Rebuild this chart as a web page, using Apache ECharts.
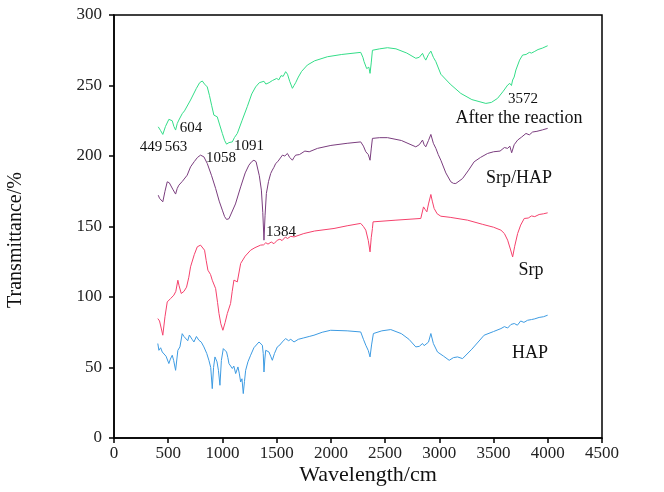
<!DOCTYPE html>
<html>
<head>
<meta charset="utf-8">
<script src="https://cdn.jsdelivr.net/npm/echarts@6/dist/echarts.min.js"></script>
<style>
  html, body { margin: 0; padding: 0; background: #fff; }
  #chart { width: 664px; height: 492px; }
</style>
</head>
<body>
<div id="chart"></div>
<script>
// x ticks and y ticks
const xTicks = [0, 500, 1000, 1500, 2000, 2500, 3000, 3500, 4000, 4500]
const yTicks = [0, 50, 100, 150, 200, 250, 300]

// [wavenumber, transmittance]
const afterReaction = [
  [408,220.7],[430,218],[450,215.3],[475,221],[506,226],[537,225],[552,221],[568,218.4],[583,223],[598,225.5],
  [629,230],[650,232],[706,239.7],[760,248],[790,252],[814,253.2],[835,251],[860,249],[880,243],[900,236],
  [921,229],[936,229.5],[952,227.8],[975,222],[999,216],[1020,211],[1038,208.4],[1060,209.5],[1091,210],[1110,213],
  [1137,216],[1180,225],[1229,235],[1270,244],[1306,249],[1340,252],[1383,253],[1400,251],[1414,250],[1430,252],
  [1445,251],[1460,253.5],[1475,252.7],[1500,255],[1520,254],[1540,257],[1560,256.5],[1583,259.8],[1600,258],[1620,253],
  [1645,248],[1660,250],[1675,252],[1700,256],[1730,260],[1783,264.5],[1850,267.5],[1968,270.4],[2100,272],[2275,273.5],
  [2295,270],[2306,266.9],[2330,262],[2350,263],[2361,258.6],[2372,266],[2383,275],[2450,276],[2522,276.8],[2600,276],
  [2700,273],[2783,269.3],[2815,270],[2845,272.8],[2860,270],[2875,268],[2900,272],[2922,274.4],[2945,270],[2968,266.9],
  [3014,258],[3100,251],[3198,244.4],[3300,240],[3429,237.3],[3480,238],[3537,240.9],[3590,246],[3630,250.3],[3650,251.5],
  [3665,250],[3676,253.9],[3690,256],[3706,261],[3740,268],[3768,271.6],[3800,272],[3830,273.5],[3850,273],[3875,274],
  [3910,275.5],[3950,276.5],[3999,278.2]
]
const srpHap = [
  [408,172.2],[420,170],[450,167.5],[470,175],[491,181.7],[510,181],[522,180.5],[545,176],[568,173],[583,177],
  [598,179.3],[630,182],[675,186.4],[706,192.3],[740,196],[770,199],[798,200.6],[829,199.4],[860,194.7],[900,186],
  [937,177],[970,168],[999,161.6],[1020,157],[1038,155],[1060,155.5],[1075,155.7],[1120,166],[1168,178.1],[1210,188],
  [1244,193.5],[1270,196],[1290,197],[1310,196],[1322,194.7],[1340,186],[1359,175.8],[1372,160],[1383,140.3],[1393,158],
  [1405,173.4],[1425,182],[1445,187.6],[1460,190],[1475,192],[1491,194.7],[1510,196],[1525,195],[1553,200.6],[1575,200],
  [1599,201.8],[1620,199],[1645,197],[1660,199],[1675,200.6],[1710,201],[1760,203.5],[1800,203],[1876,205.4],[2000,207.5],
  [2150,209],[2275,210],[2300,207],[2322,203],[2345,201],[2361,197],[2372,205],[2383,212.5],[2450,213],[2522,213],
  [2650,211],[2783,206.5],[2815,208],[2845,211.3],[2860,208],[2875,206.5],[2900,211],[2922,215.3],[2945,209],[2968,205.4],
  [2990,201],[3014,197],[3060,188],[3106,181.7],[3130,180.6],[3152,180.5],[3214,184],[3270,190],[3321,195.9],[3380,199],
  [3445,201.8],[3500,203],[3560,203.5],[3600,206],[3630,205.4],[3650,207],[3667,202.3],[3690,208],[3722,211.3],[3760,213.5],
  [3799,216],[3830,215],[3860,217],[3900,217.5],[3950,218.5],[3999,219.6]
]
const srp = [
  [404,84.7],[420,83],[435,78],[450,72.9],[470,86],[491,96.5],[522,98.9],[552,101.3],[570,104],[589,111.9],
  [600,108],[620,102.5],[645,104],[669,107],[690,114],[706,121.4],[740,130],[768,135.6],[798,136.8],[835,133.2],
  [850,126],[866,119],[890,116],[906,111.9],[937,106],[955,96],[968,88.3],[985,81],[1004,76.4],[1025,82],
  [1045,88.3],[1075,95.4],[1090,104],[1106,112],[1137,110.7],[1168,123.8],[1210,129],[1260,133.2],[1300,135],[1352,136.8],
  [1380,137],[1400,138.5],[1420,137.5],[1450,139],[1475,137.8],[1506,140.3],[1530,141],[1550,140],[1580,142.5],[1600,141.5],
  [1630,143],[1660,142.6],[1750,145],[1850,146.8],[2029,148.6],[2150,150.5],[2275,152.2],[2300,150],[2322,147.4],[2345,140],
  [2361,132],[2372,142],[2383,148.6],[2389,153.3],[2600,154.5],[2829,155.7],[2854,163.9],[2870,162],[2885,160.4],[2900,166],
  [2922,172.7],[2935,168],[2952,162.8],[2980,159],[3014,157.3],[3100,156.5],[3260,154.5],[3400,151.5],[3500,149.5],[3568,147.4],
  [3600,145],[3630,140.3],[3655,134],[3676,128.4],[3695,136],[3722,145],[3750,151],[3783,155.7],[3820,156],[3850,157.5],
  [3880,157],[3920,158.5],[3960,159],[3999,159.7]
]
const hap = [
  [404,67],[414,62.2],[430,64],[445,61],[460,62.2],[480,58],[506,52.8],[520,56],[537,58.7],[550,55],
  [568,48],[589,62.2],[608,64.6],[629,74],[645,72],[660,72.9],[680,69],[695,73],[706,72.9],[720,70],
  [737,68.1],[760,72],[783,69.3],[805,68],[829,64.6],[855,60],[875,55.1],[892,50],[906,35],[918,50],
  [931,57.5],[950,54],[963,48],[977,37.4],[990,55],[1008,63.4],[1022,62],[1038,61],[1050,57],[1060,52.8],
  [1075,54],[1091,49.3],[1105,51],[1122,45.7],[1143,50.4],[1155,46],[1168,39.7],[1180,42],[1192,31.5],[1203,40],
  [1214,48],[1235,54],[1260,58.7],[1290,64],[1337,68.1],[1355,67],[1368,65.8],[1376,60],[1383,46.8],[1391,56],
  [1399,62.2],[1415,63],[1429,61],[1445,58],[1460,55.1],[1480,60],[1506,64.6],[1530,66],[1550,68],[1583,70.5],
  [1610,69],[1630,70],[1660,68.1],[1700,70],[1750,71],[1800,72],[1844,72.9],[1920,75],[1998,76.4],[2150,76],
  [2275,75.2],[2300,70],[2322,65.8],[2345,62],[2361,57.5],[2375,66],[2392,74.1],[2470,76],[2552,76.9],[2650,74],
  [2720,70],[2783,64.6],[2815,65],[2845,67],[2860,65.5],[2875,64.6],[2900,68],[2922,74.1],[2945,67],[2983,61],
  [3040,58],[3091,55.1],[3130,57],[3168,57.5],[3214,56.3],[3300,63],[3413,72.9],[3500,75.5],[3568,77.6],[3600,79],
  [3630,78],[3660,80.5],[3691,81.2],[3720,80],[3750,83],[3780,82],[3814,83.5],[3850,84],[3880,84.5],[3920,85.5],
  [3960,86],[3999,87.1]
]

// peak annotations and curve names: [text, centre x px, centre y px, size]
const notes = [
  ['3572', 523, 99, 15], ['After the reaction', 519, 118, 18],
  ['449', 151, 147, 15], ['563', 176, 147, 15], ['604', 191, 128, 15],
  ['1091', 249, 146, 15], ['1058', 221, 158, 15], ['1384', 281, 232, 15],
  ['Srp/HAP', 519, 178, 18], ['Srp', 531, 270, 18], ['HAP', 530, 353, 18]
]

const font = 'Liberation Serif'
const chart = echarts.init(document.getElementById('chart'))

function line(name, data, color) {
  return {
    name, type: 'line', data,
    showSymbol: false, smooth: false,
    lineStyle: { color, width: 1 }
  }
}

chart.setOption({
  animation: false,
  grid: { left: 114, right: 62, top: 15, bottom: 54, show: true, borderColor: '#000', borderWidth: 1.5 },
  xAxis: {
    type: 'value', min: xTicks[0], max: xTicks[xTicks.length - 1], interval: 500,
    axisLine: { lineStyle: { color: '#000', width: 1.5 } },
    axisTick: { length: 5, lineStyle: { color: '#000', width: 1.5 } },
    axisLabel: { color: '#222', fontFamily: font, fontSize: 17, margin: 7, formatter: v => String(v) },
    splitLine: { show: false }
  },
  yAxis: {
    type: 'value', min: yTicks[0], max: yTicks[yTicks.length - 1], interval: 50,
    axisLine: { show: true, lineStyle: { color: '#000', width: 1.5 } },
    axisTick: { show: true, length: 5, lineStyle: { color: '#000', width: 1.5 } },
    axisLabel: { color: '#222', fontFamily: font, fontSize: 17, margin: 12, formatter: v => String(v) },
    splitLine: { show: false }
  },
  series: [
    line('After the reaction', afterReaction, '#33dd88'),
    line('Srp/HAP', srpHap, '#7a3d7e'),
    line('Srp', srp, '#f5416c'),
    line('HAP', hap, '#3d9be2')
  ],
  graphic: [
    ...notes.map(([t, x, y, s]) => ({
      type: 'text', x, y,
      style: { text: t, fill: '#111', font: `${s}px "${font}"`, textAlign: 'center', textVerticalAlign: 'middle' }
    })),
    { type: 'text', x: 368, y: 475,
      style: { text: 'Wavelength/cm', fill: '#111', font: `22px "${font}"`, textAlign: 'center', textVerticalAlign: 'middle' } },
    { type: 'text', x: 16, y: 240, rotation: Math.PI / 2,
      style: { text: 'Transmittance/%', fill: '#111', font: `20px "${font}"`, textAlign: 'center', textVerticalAlign: 'middle' } }
  ]
})
</script>
</body>
</html>
